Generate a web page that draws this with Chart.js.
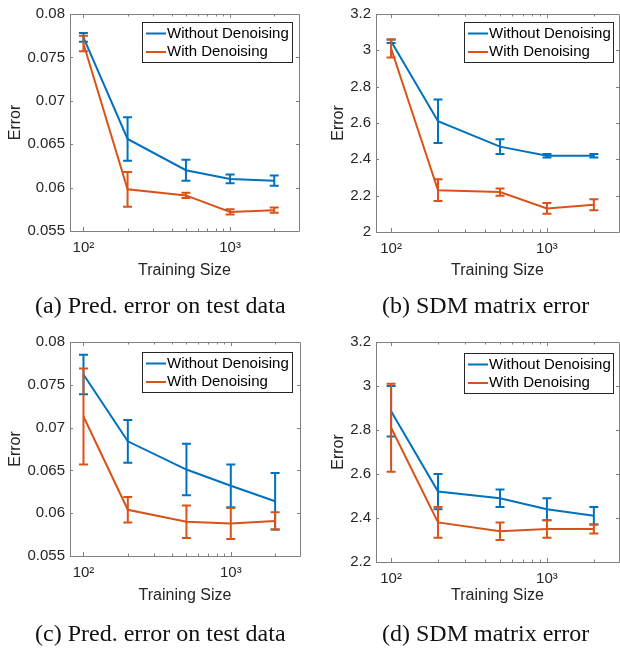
<!DOCTYPE html>
<html><head><meta charset="utf-8">
<script src="https://cdn.jsdelivr.net/npm/chart.js@4/dist/chart.umd.min.js"></script>
<style>
body{margin:0;width:620px;height:652px;background:#fff;position:relative;overflow:hidden}
canvas{position:absolute}
.cap{position:absolute;font-family:"Liberation Serif",serif;font-size:24px;color:#111;white-space:nowrap;line-height:28px}
</style></head><body>
<canvas id="ca" width="310" height="300" style="left:0;top:0"></canvas>
<canvas id="cb" width="310" height="300" style="left:310px;top:0"></canvas>
<canvas id="cc" width="310" height="300" style="left:0;top:325px"></canvas>
<canvas id="cd" width="310" height="300" style="left:310px;top:325px"></canvas>
<div class="cap" style="left:35px;top:291px">(a) Pred. error on test data</div>
<div class="cap" style="left:382px;top:291px">(b) SDM matrix error</div>
<div class="cap" style="left:35px;top:619px">(c) Pred. error on test data</div>
<div class="cap" style="left:382px;top:619px">(d) SDM matrix error</div>
<script>
// ---- data ----
const trainingSizes = [100, 200, 500, 1000, 2000];
const seriesLabels = ["Without Denoising", "With Denoising"];

const aWithoutMean = [0.0773, 0.0656, 0.0620, 0.0610, 0.0608];
const aWithoutErr  = [0.0005, 0.0025, 0.0012, 0.0005, 0.0006];
const aWithMean    = [0.0766, 0.0598, 0.0591, 0.0572, 0.0574];
const aWithErr     = [0.0009, 0.0020, 0.0003, 0.0003, 0.0003];

const bWithoutMean = [3.05, 2.61, 2.47, 2.42, 2.42];
const bWithoutErr  = [0.01, 0.12, 0.04, 0.01, 0.01];
const bWithMean    = [3.01, 2.23, 2.22, 2.13, 2.15];
const bWithErr     = [0.05, 0.06, 0.02, 0.03, 0.03];

const cWithoutMean = [0.0762, 0.0684, 0.0651, 0.0632, 0.0614];
const cWithoutErr  = [0.0023, 0.0025, 0.0030, 0.0025, 0.0033];
const cWithMean    = [0.0713, 0.0604, 0.0590, 0.0588, 0.0591];
const cWithErr     = [0.0056, 0.0015, 0.0019, 0.0018, 0.0010];

const dWithoutMean = [2.885, 2.52, 2.49, 2.44, 2.41];
const dWithoutErr  = [0.115, 0.08, 0.04, 0.05, 0.04];
const dWithMean    = [2.81, 2.38, 2.34, 2.35, 2.35];
const dWithErr     = [0.20, 0.07, 0.04, 0.04, 0.02];

const xTickValues = [100,200,300,400,500,600,700,800,900,1000,2000];
const xTickLabels = {100: "10\u00B2", 1000: "10\u00B3"};
const yTicksPred = [0.055, 0.06, 0.065, 0.07, 0.075, 0.08];
const yTicksSdmB = [2, 2.2, 2.4, 2.6, 2.8, 3, 3.2];
const yTicksSdmD = [2.2, 2.4, 2.6, 2.8, 3, 3.2];

// ---- style ----
const BLUE = "#0072BD", RED = "#D95319";
const AXIS = "#808080", TXT = "#262626";
const SANS = '"Liberation Sans", Arial, sans-serif';

const matlabPlugin = {
  id: "matlab",
  afterDatasetDraw(chart, args) {
    const ds = chart.data.datasets[args.index];
    const xs = chart.scales.x, ys = chart.scales.y;
    const ctx = chart.ctx;
    ctx.save();
    ctx.strokeStyle = ds.borderColor;
    ctx.lineWidth = 2;
    ds.data.forEach((p, i) => {
      const e = ds.errs[i];
      const px = xs.getPixelForValue(p.x);
      const y1 = ys.getPixelForValue(p.y + e), y2 = ys.getPixelForValue(p.y - e);
      ctx.beginPath();
      ctx.moveTo(px, y1); ctx.lineTo(px, y2);
      ctx.moveTo(px - 4.5, y1); ctx.lineTo(px + 4.5, y1);
      ctx.moveTo(px - 4.5, y2); ctx.lineTo(px + 4.5, y2);
      ctx.stroke();
    });
    ctx.restore();
  },
  afterDraw(chart, args, opts) {
    const ctx = chart.ctx, a = chart.chartArea;
    const xs = chart.scales.x, ys = chart.scales.y;
    ctx.save();
    ctx.strokeStyle = AXIS;
    ctx.lineWidth = 1;
    ctx.beginPath();
    ctx.rect(Math.round(a.left) + 0.5, Math.round(a.top) + 0.5, Math.round(a.right - a.left), Math.round(a.bottom - a.top));
    ctx.stroke();
    ctx.beginPath();
    xs.ticks.forEach(t => {
      const px = Math.round(xs.getPixelForValue(t.value)) + 0.5;
      const len = xTickLabels[t.value] ? 4 : 2.5;
      ctx.moveTo(px, a.bottom); ctx.lineTo(px, a.bottom - len);
      ctx.moveTo(px, a.top); ctx.lineTo(px, a.top + len);
    });
    ys.ticks.forEach(t => {
      const py = Math.round(ys.getPixelForValue(t.value)) + 0.5;
      ctx.moveTo(a.left, py); ctx.lineTo(a.left + 3, py);
      ctx.moveTo(a.right, py); ctx.lineTo(a.right - 3, py);
    });
    ctx.stroke();
    // legend
    const L = opts.legend;
    ctx.fillStyle = "#fff";
    ctx.fillRect(L.x, L.y, L.w, L.h);
    ctx.strokeStyle = "#262626";
    ctx.strokeRect(L.x + 0.5, L.y + 0.5, L.w, L.h);
    ctx.font = "15px " + SANS;
    ctx.textBaseline = "middle";
    chart.data.datasets.forEach((ds, i) => {
      const cy = L.y + 11.5 + i * 18.5;
      ctx.strokeStyle = ds.borderColor;
      ctx.lineWidth = 2;
      ctx.beginPath();
      ctx.moveTo(L.x + 4, cy); ctx.lineTo(L.x + 24, cy);
      ctx.stroke();
      ctx.fillStyle = "#000";
      ctx.fillText(ds.label, L.x + 25, cy);
    });
    ctx.restore();
  }
};

function makeChart(id, wMean, wErr, dMean, dErr, yTicks, box, legend, yTitlePad) {
  const W = 310, H = 300;
  const pts = m => trainingSizes.map((x, i) => ({x: x, y: m[i]}));
  new Chart(document.getElementById(id), {
    type: "line",
    data: {
      datasets: [
        {label: seriesLabels[0], data: pts(wMean), errs: wErr, borderColor: BLUE, backgroundColor: BLUE, borderWidth: 2, pointRadius: 0, tension: 0, order: 1},
        {label: seriesLabels[1], data: pts(dMean), errs: dErr, borderColor: RED, backgroundColor: RED, borderWidth: 2, pointRadius: 0, tension: 0, order: 0}
      ]
    },
    options: {
      responsive: false,
      animation: false,
      events: [],
      layout: {padding: {left: 0, top: box.top, right: W - box.right, bottom: 0}},
      plugins: {legend: {display: false}, tooltip: {enabled: false}, matlab: {legend: legend}},
      scales: {
        x: {
          type: "logarithmic",
          min: box.xmin, max: box.xmax,
          afterBuildTicks: s => { s.ticks = xTickValues.map(v => ({value: v})); },
          afterFit: s => { s.height = H - box.bottom; },
          grid: {display: false, drawTicks: false},
          border: {display: false},
          ticks: {autoSkip: false, maxRotation: 0, padding: 8, color: TXT, font: {family: SANS, size: 15},
                  callback: v => xTickLabels[v] || ""},
          title: {display: true, text: "Training Size", color: TXT, font: {family: SANS, size: 16}, padding: 20}
        },
        y: {
          type: "linear",
          min: yTicks[0], max: yTicks[yTicks.length - 1],
          afterBuildTicks: s => { s.ticks = yTicks.map(v => ({value: v})); },
          afterFit: s => { s.width = box.left; },
          grid: {display: false, drawTicks: false},
          border: {display: false},
          ticks: {padding: 5, color: TXT, font: {family: SANS, size: 15},
                  callback: v => String(Number(v.toFixed(4)))},
          title: {display: true, text: "Error", color: TXT, font: {family: SANS, size: 16}, padding: yTitlePad}
        }
      }
    },
    plugins: [matlabPlugin]
  });
}

makeChart("ca", aWithoutMean, aWithoutErr, aWithMean, aWithErr, yTicksPred,
  {left: 70, top: 12, right: 299, bottom: 231, xmin: 81, xmax: 2950},
  {x: 142, y: 22, w: 150, h: 40}, 6);
makeChart("cb", bWithoutMean, bWithoutErr, bWithMean, bWithErr, yTicksSdmB,
  {left: 66, top: 13, right: 309, bottom: 232, xmin: 80, xmax: 2900},
  {x: 154, y: 22, w: 149, h: 40}, 19);
makeChart("cc", cWithoutMean, cWithoutErr, cWithMean, cWithErr, yTicksPred,
  {left: 70, top: 17, right: 300, bottom: 231, xmin: 81, xmax: 2950},
  {x: 142, y: 27, w: 150, h: 40}, 6);
makeChart("cd", dWithoutMean, dWithoutErr, dWithMean, dWithErr, yTicksSdmD,
  {left: 66, top: 17, right: 309, bottom: 237, xmin: 80, xmax: 2900},
  {x: 154, y: 28, w: 149, h: 40}, 19);
</script>
</body></html>
